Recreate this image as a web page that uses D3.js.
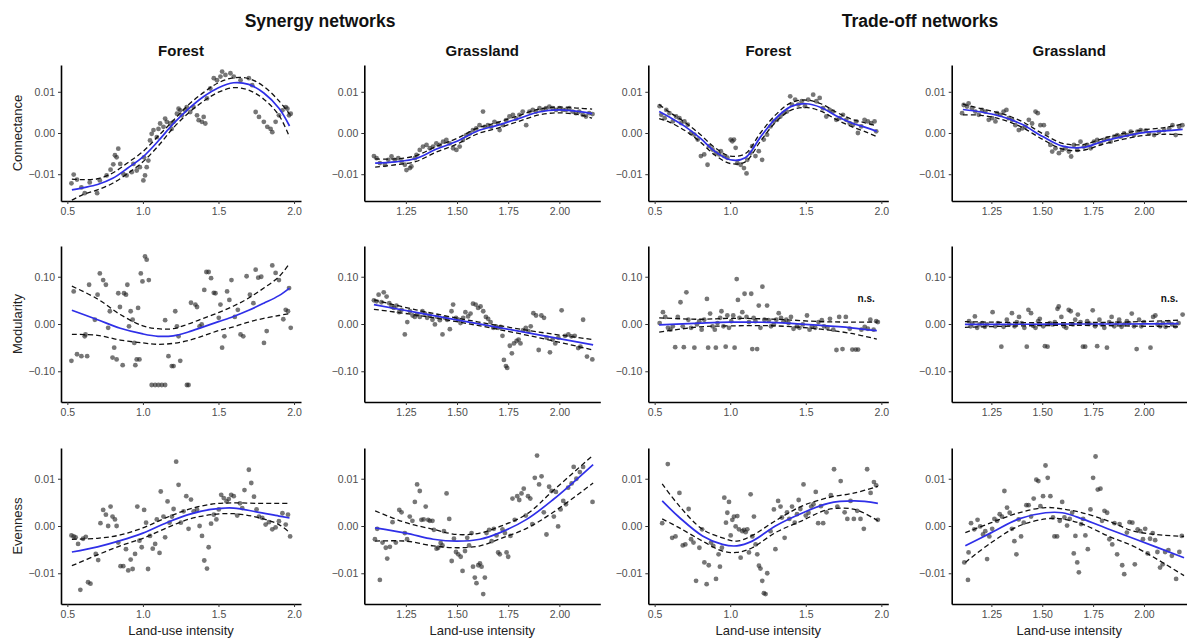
<!DOCTYPE html>
<html><head><meta charset="utf-8">
<script src="https://cdn.jsdelivr.net/npm/d3@7"></script>
<style>body{margin:0;background:#fff;} svg{display:block;font-family:"Liberation Sans",Arial,sans-serif;}</style>
</head><body><svg id="c" width="1187" height="640"></svg>
<script>
// ---------- labels ----------
const groupTitles = ["Synergy networks", "Trade-off networks"];
const habitatTitles = ["Forest", "Grassland", "Forest", "Grassland"];
const metricTitles = ["Connectance", "Modularity", "Evenness"];
const xAxisTitle = "Land-use intensity";
const xTicksForest = [0.5, 1.0, 1.5, 2.0];
const xTicksGrass = [1.25, 1.50, 1.75, 2.00];
const yTicksSmall = [-0.01, 0.00, 0.01];
const yTicksMod = [-0.10, 0.00, 0.10];
const nsText = "n.s.";
const nsLabels = [[1, 2, 1.90, 0.053], [1, 3, 2.125, 0.053]]; // row, col, x, y

// ---------- points [x, y] ----------
const ptsSynForestConn = [[0.527,-0.0122],[0.542,-0.0101],[0.564,-0.0113],[0.593,-0.0132],[0.615,-0.0146],[0.648,-0.012],[0.697,-0.0146],[0.715,-0.0115],[0.76,-0.0103],[0.786,-0.0089],[0.804,-0.0076],[0.815,-0.0054],[0.826,-0.0059],[0.837,-0.0038],[0.85,-0.0075],[0.87,-0.0099],[0.892,-0.0103],[0.926,-0.0095],[0.937,-0.0075],[0.959,-0.0091],[0.98,-0.0083],[1.003,-0.0115],[1.007,-0.0059],[1.014,-0.0103],[1.025,-0.0083],[1.036,-0.0067],[1.047,-0.0018],[1.058,-0.0002],[1.07,0.0007],[1.092,-0.001],[1.103,0.001],[1.114,0.0023],[1.136,0.0015],[1.147,0.0035],[1.158,0.0027],[1.18,0.0023],[1.19,0.001],[1.203,0.0027],[1.225,0.0047],[1.236,0.0059],[1.247,0.0055],[1.258,0.0043],[1.28,0.0055],[1.29,0.0063],[1.313,0.0051],[1.335,0.0063],[1.358,0.0043],[1.369,0.0031],[1.39,0.0027],[1.402,0.0039],[1.413,0.0023],[1.424,0.0084],[1.446,0.0108],[1.469,0.0133],[1.49,0.0128],[1.513,0.0137],[1.524,0.0149],[1.546,0.0141],[1.579,0.0145],[1.601,0.0137],[1.646,0.0128],[1.701,0.0133],[1.723,0.0116],[1.746,0.0051],[1.768,0.0039],[1.8,0.0027],[1.823,0.0015],[1.845,0.001],[1.856,0.0002],[1.878,0.0027],[1.9,0.0043],[1.923,0.0055],[1.945,0.0063],[1.956,0.0059],[1.967,0.0043],[1.978,0.0047]];
const ptsSynGrassConn = [[1.094,-0.0056],[1.107,-0.0061],[1.123,-0.0073],[1.148,-0.0077],[1.164,-0.0065],[1.18,-0.0057],[1.196,-0.0065],[1.213,-0.0061],[1.229,-0.0069],[1.245,-0.0077],[1.253,-0.009],[1.27,-0.0085],[1.277,-0.0081],[1.294,-0.0061],[1.302,-0.0053],[1.318,-0.0041],[1.334,-0.0033],[1.351,-0.0029],[1.367,-0.0037],[1.383,-0.0033],[1.399,-0.0025],[1.416,-0.0029],[1.432,-0.0021],[1.448,-0.0017],[1.464,-0.0025],[1.481,-0.0037],[1.497,-0.0041],[1.513,-0.0033],[1.529,-0.0017],[1.545,-0.0005],[1.562,-0.0001],[1.578,0.0007],[1.594,0.0011],[1.61,0.0019],[1.627,0.0052],[1.635,0.0015],[1.651,0.0019],[1.667,0.0015],[1.683,0.0027],[1.7,0.0023],[1.708,0.0007],[1.724,0.0019],[1.74,0.0031],[1.756,0.004],[1.773,0.0044],[1.789,0.0035],[1.805,0.0044],[1.821,0.0052],[1.838,0.0019],[1.854,0.0052],[1.87,0.0056],[1.886,0.0052],[1.903,0.006],[1.919,0.0056],[1.935,0.006],[1.951,0.0064],[1.968,0.006],[1.984,0.0056],[2.0,0.006],[2.016,0.0056],[2.032,0.0056],[2.049,0.006],[2.065,0.0052],[2.081,0.0048],[2.097,0.0052],[2.114,0.0044],[2.13,0.004],[2.146,0.0048],[2.162,0.0046]];
const ptsTradeForestConn = [[0.533,0.0065],[0.544,0.0044],[0.566,0.0036],[0.577,0.0056],[0.598,0.0048],[0.62,0.0028],[0.642,0.004],[0.664,0.0036],[0.675,0.0024],[0.697,0.0028],[0.719,0.002],[0.741,0],[0.763,-0.0004],[0.785,-0.0016],[0.806,-0.0056],[0.828,-0.0052],[0.85,-0.0077],[0.861,-0.0032],[0.883,-0.004],[0.905,-0.0048],[0.927,-0.0052],[0.938,-0.0044],[0.96,-0.0056],[0.981,-0.006],[1.003,-0.0016],[1.014,-0.002],[1.025,-0.0016],[1.036,-0.0036],[1.047,-0.0073],[1.069,-0.0077],[1.091,-0.0085],[1.108,-0.0098],[1.113,-0.0065],[1.135,-0.0048],[1.146,-0.0032],[1.167,-0.0056],[1.189,-0.0044],[1.211,-0.0065],[1.222,-0.0016],[1.244,-0.0004],[1.266,0.0016],[1.288,0.0028],[1.31,0.0032],[1.332,0.004],[1.353,0.0048],[1.375,0.0052],[1.397,0.0089],[1.408,0.0069],[1.43,0.0081],[1.451,0.0069],[1.473,0.0077],[1.495,0.0065],[1.516,0.0081],[1.549,0.0093],[1.57,0.0077],[1.592,0.0085],[1.614,0.006],[1.636,0.004],[1.658,0.0056],[1.68,0.0052],[1.702,0.0032],[1.724,0.0036],[1.746,0.0044],[1.768,0.0032],[1.79,0.0024],[1.812,0.002],[1.834,0.0028],[1.845,0],[1.867,0.0016],[1.889,0.0032],[1.911,0.0028],[1.933,0.0024],[1.955,0.0028],[1.966,0.0004]];
const ptsTradeGrassConn = [[1.106,0.0048],[1.114,0.0068],[1.13,0.0064],[1.138,0.0072],[1.155,0.006],[1.171,0.0052],[1.188,0.0044],[1.204,0.0056],[1.22,0.0052],[1.237,0.0032],[1.253,0.0036],[1.27,0.0028],[1.278,0.0048],[1.294,0.0044],[1.31,0.0052],[1.324,0.0056],[1.335,0.0036],[1.352,0.0032],[1.368,0.0019],[1.385,0.0007],[1.401,0.0011],[1.417,0.0015],[1.434,0.0032],[1.45,0.0023],[1.467,0.0052],[1.478,0.0048],[1.491,0.0019],[1.508,0.0019],[1.524,-0.0001],[1.54,-0.0029],[1.549,-0.0045],[1.565,-0.0037],[1.582,-0.0049],[1.598,-0.0041],[1.614,-0.0037],[1.631,-0.0045],[1.642,-0.0057],[1.656,-0.0029],[1.672,-0.0041],[1.688,-0.0021],[1.705,-0.0033],[1.721,-0.0029],[1.738,-0.0037],[1.754,-0.0021],[1.77,-0.0017],[1.787,-0.0025],[1.803,-0.0017],[1.82,-0.0013],[1.836,-0.0021],[1.853,-0.0009],[1.869,-0.0005],[1.885,-0.0009],[1.902,-0.0001],[1.918,-0.0005],[1.935,0.0003],[1.951,-0.0005],[1.968,0.0003],[1.984,0.0007],[2.008,0.0006],[2.025,-0.0001],[2.05,-0.0005],[2.074,0.0003],[2.099,0.0007],[2.124,0.0011],[2.14,0.0019],[2.156,-0.0005],[2.173,0.0015],[2.189,0.0019]];
const ptsSynForestMod = [[0.527,-0.078],[0.542,0.069],[0.564,-0.064],[0.593,-0.068],[0.615,-0.026],[0.62,-0.022],[0.631,-0.068],[0.644,0.083],[0.682,0.009],[0.7,0.062],[0.715,0.107],[0.737,0.093],[0.755,0.083],[0.77,-0.008],[0.781,0.027],[0.799,-0.071],[0.81,-0.05],[0.826,-0.075],[0.837,0.065],[0.848,0.036],[0.866,-0.087],[0.875,0.065],[0.888,0.062],[0.897,0.083],[0.908,-0.005],[0.919,0.027],[0.932,0.009],[0.943,-0.04],[0.95,-0.087],[0.959,-0.075],[0.968,0.034],[0.977,-0.075],[0.986,0.107],[0.997,0.09],[1.014,0.143],[1.025,0.136],[1.039,0.093],[1.058,-0.129],[1.081,-0.129],[1.103,-0.129],[1.125,-0.129],[1.147,-0.129],[1.147,0.008],[1.169,-0.068],[1.191,-0.089],[1.203,-0.089],[1.214,0.027],[1.225,-0.005],[1.236,-0.026],[1.247,-0.078],[1.291,-0.129],[1.302,-0.129],[1.318,0.045],[1.347,0.041],[1.358,0.036],[1.375,-0.005],[1.389,-0.001],[1.406,0.072],[1.42,0.11],[1.435,0.11],[1.451,0.097],[1.469,0.066],[1.48,0.065],[1.502,0.013],[1.513,0.041],[1.524,-0.05],[1.539,-0.026],[1.557,0.069],[1.572,0.051],[1.586,0.093],[1.608,0.015],[1.628,0.03],[1.646,-0.022],[1.664,-0.026],[1.686,0.101],[1.708,0.062],[1.731,0.044],[1.746,0.115],[1.763,0.098],[1.783,0.1],[1.801,-0.04],[1.819,-0.015],[1.856,0.124],[1.878,0.108],[1.9,0.093],[1.929,0.01],[1.945,0.03],[1.96,0.027],[1.967,0.076],[1.978,-0.008]];
const ptsSynGrassMod = [[1.094,0.05],[1.107,0.048],[1.117,0.062],[1.131,0.046],[1.142,0.067],[1.156,0.058],[1.169,0.044],[1.18,0.037],[1.191,0.034],[1.204,0.039],[1.217,0.025],[1.229,0.03],[1.245,-0.022],[1.257,0.004],[1.27,0.027],[1.283,0.018],[1.294,0.015],[1.305,0.02],[1.318,0.015],[1.331,0.027],[1.343,0.022],[1.354,0.013],[1.367,0.018],[1.38,0.009],[1.392,-0.001],[1.403,0.015],[1.416,0.008],[1.429,-0.022],[1.441,0.013],[1.452,0.009],[1.465,-0.011],[1.473,0.027],[1.481,0.041],[1.495,0.013],[1.506,0.009],[1.517,0.002],[1.53,0.013],[1.541,0.025],[1.554,0.016],[1.566,0.022],[1.578,0.043],[1.591,0.041],[1.603,0.034],[1.615,0.037],[1.628,0.027],[1.641,0.015],[1.652,0.011],[1.664,0.004],[1.677,-0.008],[1.69,-0.005],[1.701,-0.008],[1.713,-0.006],[1.722,-0.025],[1.729,-0.076],[1.739,-0.089],[1.745,-0.093],[1.758,-0.046],[1.768,-0.062],[1.778,-0.041],[1.791,-0.036],[1.801,-0.033],[1.81,-0.041],[1.823,-0.013],[1.836,-0.008],[1.849,-0.015],[1.86,-0.005],[1.873,0.023],[1.886,0.018],[1.899,-0.055],[1.912,0.018],[1.925,0.013],[1.938,-0.029],[1.954,-0.06],[1.967,-0.033],[1.98,-0.041],[1.995,-0.029],[2.011,0.029],[2.028,-0.025],[2.044,-0.022],[2.059,-0.026],[2.075,-0.025],[2.092,-0.051],[2.103,-0.048],[2.116,0.009],[2.135,-0.069],[2.161,-0.075]];
const ptsTradeForestMod = [[0.533,0.002],[0.555,0.025],[0.57,0.015],[0.588,-0.008],[0.605,-0.012],[0.62,-0.005],[0.636,-0.049],[0.653,0.015],[0.671,0.046],[0.686,-0.005],[0.693,-0.049],[0.71,0.067],[0.723,0.009],[0.741,-0.008],[0.763,-0.05],[0.78,-0.001],[0.795,0.006],[0.811,-0.012],[0.828,0.009],[0.846,0.053],[0.854,-0.05],[0.867,0.022],[0.883,-0.005],[0.898,-0.012],[0.905,-0.05],[0.916,0.002],[0.933,0.013],[0.942,0.027],[0.955,-0.005],[0.97,-0.048],[0.981,0.018],[0.992,-0.008],[1.007,0.006],[1.02,0.018],[1.029,-0.05],[1.043,0.095],[1.051,0.051],[1.061,0.013],[1.08,0.025],[1.095,0.064],[1.108,0.015],[1.124,0.004],[1.139,0.064],[1.146,-0.053],[1.155,0.013],[1.167,0.006],[1.178,-0.053],[1.189,0.039],[1.2,-0.008],[1.213,0.079],[1.226,0.009],[1.244,0.039],[1.255,0.008],[1.27,-0.005],[1.288,-0.001],[1.305,0.009],[1.321,0.023],[1.336,0.013],[1.353,0.006],[1.371,0.009],[1.386,0.002],[1.402,0.015],[1.419,-0.01],[1.441,-0.005],[1.458,-0.008],[1.48,-0.001],[1.508,0.018],[1.525,-0.012],[1.541,-0.005],[1.563,-0.008],[1.584,0.004],[1.606,0.008],[1.621,-0.005],[1.643,-0.008],[1.66,0.011],[1.682,-0.012],[1.703,-0.055],[1.721,0.015],[1.743,-0.053],[1.765,0.015],[1.791,-0.01],[1.808,-0.054],[1.83,-0.054],[1.846,-0.054],[1.868,-0.012],[1.89,-0.006],[1.911,-0.01],[1.927,0.009],[1.949,-0.012],[1.966,0.006],[1.977,0.004]];
const ptsTradeGrassMod = [[1.14,0.006],[1.148,-0.005],[1.156,0.001],[1.169,0.016],[1.18,-0.008],[1.192,-0.001],[1.205,0.002],[1.218,-0.006],[1.229,-0.001],[1.256,0.025],[1.269,-0.005],[1.282,0.002],[1.299,-0.048],[1.31,-0.006],[1.326,0.009],[1.338,-0.001],[1.351,0.023],[1.364,-0.005],[1.375,0.004],[1.386,0.015],[1.399,0.002],[1.412,-0.008],[1.424,-0.048],[1.432,0.03],[1.445,0.023],[1.456,-0.004],[1.467,-0.008],[1.48,0.006],[1.488,0.011],[1.505,-0.005],[1.513,-0.047],[1.526,-0.048],[1.537,0.002],[1.549,-0.001],[1.562,0.004],[1.575,0.032],[1.581,0.037],[1.594,0.015],[1.607,-0.005],[1.618,-0.008],[1.63,0.03],[1.64,0.027],[1.651,-0.001],[1.662,0.009],[1.675,0.02],[1.688,0.004],[1.7,-0.048],[1.711,-0.048],[1.721,0.006],[1.732,0.001],[1.748,0.029],[1.76,-0.005],[1.77,-0.047],[1.781,0.009],[1.792,-0.001],[1.805,-0.008],[1.818,-0.05],[1.829,0.004],[1.841,0.015],[1.854,-0.005],[1.867,0.002],[1.878,0.009],[1.89,-0.006],[1.903,-0.001],[1.916,0.006],[1.927,0.002],[1.94,0.022],[1.951,-0.005],[1.964,-0.053],[1.976,0.009],[1.987,-0.005],[2.0,0.004],[2.032,-0.05],[2.045,0.015],[2.056,0.018],[2.067,-0.001],[2.08,-0.005],[2.093,0.002],[2.106,-0.006],[2.122,0.004],[2.138,-0.001],[2.154,-0.005],[2.17,0.002],[2.19,0.02]];
const ptsSynForestEven = [[0.527,-0.002],[0.542,-0.0022],[0.555,-0.0024],[0.571,-0.0038],[0.586,-0.0135],[0.604,-0.0027],[0.622,-0.0023],[0.637,-0.0119],[0.653,-0.0122],[0.688,-0.0059],[0.704,-0.0072],[0.719,0.0006],[0.737,0.0034],[0.755,0.0024],[0.77,0],[0.786,0.0041],[0.799,0.002],[0.815,0.0014],[0.826,0],[0.837,-0.0035],[0.852,-0.0085],[0.87,-0.0085],[0.888,-0.0049],[0.903,-0.0094],[0.919,-0.0071],[0.932,-0.0091],[0.948,-0.0059],[0.963,0.0041],[0.977,-0.0031],[0.992,-0.0045],[1.008,0.0034],[1.021,0.0007],[1.034,-0.0091],[1.047,-0.0021],[1.065,-0.0048],[1.081,-0.0038],[1.092,0.0014],[1.11,-0.0057],[1.118,0.0073],[1.136,0.002],[1.147,-0.0024],[1.163,0.0052],[1.176,0.0007],[1.192,0.002],[1.203,0.0036],[1.22,0.0136],[1.236,0.0087],[1.251,0.0007],[1.269,0.0031],[1.287,0.0063],[1.302,-0.0006],[1.318,0.0056],[1.336,0.0031],[1.358,0.0035],[1.375,0],[1.391,-0.0021],[1.406,-0.0073],[1.424,-0.009],[1.435,-0.0045],[1.451,0.0005],[1.469,0.0024],[1.486,0.0014],[1.502,0.0035],[1.518,0.0066],[1.535,0.0059],[1.553,0.0052],[1.568,0.0057],[1.584,0.0066],[1.601,0.0063],[1.624,0.0022],[1.642,0.0048],[1.657,0.0038],[1.672,0.0076],[1.701,0.0119],[1.717,0.0091],[1.735,0.0062],[1.752,0.0035],[1.768,0.002],[1.79,0.0017],[1.812,0.0003],[1.834,0.0008],[1.856,-0.0007],[1.878,-0.0003],[1.9,0.001],[1.923,0.0027],[1.945,0.0003],[1.96,0.0024],[1.974,-0.0022]];
const ptsSynGrassEven = [[1.099,-0.0028],[1.11,-0.0006],[1.123,-0.0114],[1.136,-0.0035],[1.152,-0.0046],[1.159,-0.0069],[1.172,-0.0044],[1.185,0.0008],[1.201,-0.0035],[1.218,0.0034],[1.229,0.0029],[1.245,-0.0015],[1.256,-0.0028],[1.269,0.002],[1.282,0.0011],[1.294,0.0051],[1.305,0.0088],[1.318,0.0074],[1.326,0.0013],[1.337,0.0014],[1.347,0.0041],[1.359,0.0013],[1.367,0.0011],[1.38,0.0011],[1.387,-0.0008],[1.4,-0.0048],[1.408,-0.0046],[1.42,-0.0036],[1.429,-0.0041],[1.436,-0.0011],[1.449,0.0069],[1.462,0.0015],[1.474,-0.0074],[1.485,-0.0027],[1.495,-0.0055],[1.506,-0.006],[1.518,-0.0065],[1.527,-0.0095],[1.539,-0.0053],[1.55,-0.0025],[1.559,-0.0041],[1.571,-0.0015],[1.578,-0.0086],[1.587,-0.0109],[1.595,-0.0121],[1.604,-0.0083],[1.612,-0.0079],[1.62,-0.0086],[1.628,-0.0144],[1.636,-0.0109],[1.644,-0.0015],[1.657,-0.0008],[1.669,-0.0032],[1.68,-0.0006],[1.693,-0.002],[1.701,-0.0056],[1.709,-0.006],[1.722,-0.0007],[1.734,-0.0015],[1.742,-0.0056],[1.75,-0.0065],[1.761,-0.0021],[1.771,0.0058],[1.782,0.0013],[1.794,0.0063],[1.804,0.0055],[1.815,0.0069],[1.826,0.0079],[1.836,0.0022],[1.847,0.0063],[1.858,0.0058],[1.868,0.0004],[1.88,0.0102],[1.891,0.0149],[1.901,0.0088],[1.913,0.0105],[1.924,0.0029],[1.937,-0.0018],[1.95,0.0083],[1.962,0.0074],[1.973,0.002],[1.983,0.0072],[1.994,-0.0001],[2.006,0.0035],[2.019,0.0053],[2.032,0.0046],[2.043,0.0081],[2.06,0.009],[2.07,0.0125],[2.083,0.01],[2.1,0.0114],[2.116,0.0125],[2.162,0.0051]];
const ptsTradeForestEven = [[0.55,0.0006],[0.587,0.0131],[0.616,-0.0025],[0.638,-0.0022],[0.664,0.007],[0.686,-0.0041],[0.703,-0.0039],[0.725,0.0036],[0.741,-0.0028],[0.757,-0.0035],[0.774,-0.0116],[0.796,-0.0046],[0.814,-0.0007],[0.829,-0.0077],[0.844,-0.0123],[0.858,-0.0083],[0.873,-0.0035],[0.888,-0.0042],[0.906,-0.0112],[0.923,-0.006],[0.932,-0.0086],[0.945,-0.0046],[0.961,0.006],[0.972,0.0007],[0.981,0.0028],[0.992,0.0051],[1.003,-0.002],[1.014,0.0013],[1.025,0.002],[1.036,-0.0001],[1.047,0.0021],[1.058,-0.0007],[1.069,-0.0067],[1.08,-0.0011],[1.091,-0.0008],[1.102,-0.0013],[1.113,-0.0007],[1.124,-0.0056],[1.135,0.0067],[1.146,-0.0022],[1.157,0.002],[1.168,-0.0039],[1.179,-0.006],[1.19,-0.0084],[1.2,-0.009],[1.212,-0.0116],[1.223,-0.0142],[1.234,-0.0144],[1.245,-0.01],[1.267,-0.0011],[1.289,0.0035],[1.299,-0.0049],[1.317,0.0053],[1.333,0.0041],[1.342,0.0018],[1.36,-0.0025],[1.376,0.0029],[1.391,0.0015],[1.409,0.0041],[1.427,0.0007],[1.442,0.0025],[1.453,0.0055],[1.464,0.0036],[1.485,0.0088],[1.5,0.0022],[1.518,0.0028],[1.536,0.0041],[1.551,0.0046],[1.566,0.0072],[1.582,0.0006],[1.6,0.0042],[1.615,0.0006],[1.637,0.0029],[1.666,0.0065],[1.687,0.012],[1.709,0.0041],[1.731,0.0095],[1.757,0.0029],[1.775,0.0015],[1.796,0.0053],[1.818,0.0015],[1.84,0.0032],[1.862,0.0015],[1.884,-0.0006],[1.906,0.012],[1.929,0.007],[1.951,0.0093],[1.966,0.0086],[1.977,0.0013]];
const ptsTradeGrassEven = [[1.117,-0.0077],[1.135,-0.0114],[1.138,-0.0056],[1.15,0.0006],[1.166,-0.0007],[1.182,0.0013],[1.195,-0.0001],[1.209,-0.0018],[1.22,-0.0011],[1.229,-0.007],[1.24,-0.0022],[1.254,-0.0006],[1.265,0.0015],[1.278,0.0011],[1.291,0.0025],[1.302,0.002],[1.314,0.0074],[1.327,0.0039],[1.34,0.0028],[1.351,-0.0006],[1.363,-0.0032],[1.373,-0.006],[1.384,0.0014],[1.396,-0.0022],[1.409,0.0007],[1.422,0.0044],[1.433,0.0044],[1.445,0.002],[1.458,0.0058],[1.471,0.0098],[1.481,0.0095],[1.491,0.0042],[1.504,0.0063],[1.516,0.0128],[1.527,0.0102],[1.54,0.0063],[1.553,0.0018],[1.56,-0.0022],[1.573,-0.0022],[1.586,0.0011],[1.598,0.0051],[1.609,0.0018],[1.622,0.0001],[1.635,0.0015],[1.647,0.0028],[1.655,-0.0058],[1.663,-0.0021],[1.672,-0.0077],[1.68,-0.0098],[1.691,0.0004],[1.701,0.0015],[1.712,-0.002],[1.724,-0.0049],[1.737,0.0035],[1.75,0.0102],[1.762,0.0147],[1.773,0.0077],[1.786,0.0079],[1.794,0.0011],[1.806,0.0032],[1.819,0.0028],[1.83,-0.0028],[1.844,-0.0039],[1.855,0.0006],[1.868,-0.006],[1.88,0.0004],[1.893,-0.0083],[1.903,-0.0102],[1.916,-0.0014],[1.929,0.0008],[1.943,0.0007],[1.955,-0.0081],[1.969,-0.0007],[1.982,-0.0011],[1.995,-0.0028],[2.006,-0.0006],[2.018,-0.0058],[2.03,-0.0027],[2.043,-0.0015],[2.055,-0.003],[2.066,-0.0055],[2.079,-0.0088],[2.092,-0.0081],[2.104,-0.0055],[2.12,-0.0051],[2.137,-0.0063],[2.158,-0.0112],[2.174,-0.0055],[2.186,-0.0021]];

// ---------- fitted curves [x, fit, lower, upper] ----------
const fitSynForestConn = [[0.53,-0.0138,-0.0163,-0.0112],[0.6,-0.0133,-0.015,-0.0113],[0.7,-0.0125,-0.0138,-0.0111],[0.8,-0.011,-0.0122,-0.0097],[0.9,-0.0085,-0.0098,-0.0072],[1.0,-0.0058,-0.007,-0.0045],[1.1,-0.002,-0.0032,-0.0008],[1.2,0.0022,0.0012,0.003],[1.3,0.0058,0.0048,0.0068],[1.4,0.0088,0.0077,0.0098],[1.5,0.011,0.0099,0.0122],[1.6,0.0122,0.011,0.0134],[1.7,0.0118,0.0104,0.0132],[1.8,0.0097,0.0082,0.0113],[1.9,0.006,0.0043,0.0078],[1.97,0.0017,-0.001,0.0046]];
const fitSynGrassConn = [[1.1,-0.0073,-0.0083,-0.0063],[1.2,-0.007,-0.0077,-0.0063],[1.3,-0.0062,-0.0069,-0.0055],[1.4,-0.0039,-0.0046,-0.0032],[1.5,-0.002,-0.0027,-0.0013],[1.6,0.0005,-0.0002,0.0012],[1.7,0.0019,0.0012,0.0026],[1.8,0.0035,0.0028,0.0042],[1.9,0.0051,0.0044,0.0058],[2.0,0.0056,0.0049,0.0063],[2.1,0.0052,0.0044,0.006],[2.16,0.0047,0.0036,0.0058]];
const fitTradeForestConn = [[0.53,0.0052,0.0035,0.0069],[0.6,0.0038,0.0026,0.005],[0.7,0.0016,0.0006,0.0026],[0.8,-0.0012,-0.0021,-0.0003],[0.9,-0.0045,-0.0054,-0.0036],[1.0,-0.0065,-0.0074,-0.0056],[1.1,-0.006,-0.007,-0.005],[1.2,-0.001,-0.002,0.0],[1.3,0.0035,0.0026,0.0044],[1.4,0.0064,0.0055,0.0073],[1.5,0.0071,0.0062,0.008],[1.6,0.0062,0.0053,0.0071],[1.7,0.0042,0.0033,0.0051],[1.8,0.0025,0.0016,0.0034],[1.9,0.0013,0.0002,0.0024],[1.97,0.0004,-0.0009,0.0017]];
const fitTradeGrassConn = [[1.11,0.0057,0.0044,0.007],[1.2,0.0051,0.0043,0.0059],[1.3,0.004,0.0033,0.0047],[1.4,0.0021,0.0014,0.0028],[1.5,-0.0008,-0.0015,-0.0001],[1.6,-0.0032,-0.0039,-0.0025],[1.7,-0.0035,-0.0042,-0.0028],[1.8,-0.002,-0.0027,-0.0013],[1.9,-0.0008,-0.0015,-0.0001],[2.0,0.0001,-0.0006,0.0008],[2.1,0.0005,-0.0003,0.0013],[2.19,0.0009,-0.0004,0.0022]];
const fitSynForestMod = [[0.53,0.029,-0.022,0.08],[0.7,0.009,-0.024,0.053],[0.85,-0.009,-0.034,0.02],[1.0,-0.021,-0.04,-0.004],[1.1,-0.026,-0.043,-0.01],[1.2,-0.025,-0.041,-0.01],[1.3,-0.017,-0.035,0.0],[1.4,-0.006,-0.025,0.012],[1.5,0.005,-0.014,0.024],[1.6,0.016,-0.006,0.038],[1.7,0.029,0.004,0.055],[1.8,0.044,0.012,0.076],[1.9,0.06,0.018,0.1],[1.97,0.076,0.022,0.128]];
const fitSynGrassMod = [[1.094,0.041,0.031,0.051],[1.3,0.0246,0.019,0.03],[1.6,0.0008,-0.003,0.0046],[1.9,-0.023,-0.029,-0.017],[2.165,-0.044,-0.055,-0.033]];
const fitTradeForestMod = [[0.53,-0.002,-0.017,0.013],[0.8,0.002,-0.006,0.01],[1.0,0.004,-0.004,0.012],[1.3,0.003,-0.004,0.01],[1.6,-0.003,-0.011,0.005],[1.8,-0.008,-0.02,0.004],[1.97,-0.014,-0.032,0.004]];
const fitTradeGrassMod = [[1.12,-0.001,-0.007,0.005],[1.4,-0.0005,-0.004,0.003],[1.65,0.0,-0.003,0.003],[1.9,0.0,-0.004,0.004],[2.17,0.001,-0.006,0.008]];
const fitSynForestEven = [[0.53,-0.0055,-0.0084,-0.0028],[0.7,-0.0044,-0.0061,-0.0026],[0.85,-0.0031,-0.0042,-0.0019],[1.0,-0.0015,-0.0026,-0.0004],[1.15,0.0006,-0.0005,0.0017],[1.3,0.0024,0.0014,0.0035],[1.45,0.0035,0.0024,0.0046],[1.6,0.0038,0.0026,0.0049],[1.75,0.003,0.0019,0.0048],[1.9,0.0021,0.0003,0.0048],[1.97,0.0017,-0.0014,0.0048]];
const fitSynGrassEven = [[1.1,-0.0004,-0.0032,0.0032],[1.25,-0.0015,-0.0032,0.0007],[1.384,-0.0028,-0.0042,-0.0007],[1.5,-0.0032,-0.0046,-0.0018],[1.612,-0.0028,-0.0042,-0.0015],[1.71,-0.0014,-0.0027,-0.0001],[1.84,0.0014,-0.0005,0.0025],[1.97,0.0056,0.0029,0.0075],[2.165,0.013,0.0091,0.015]];
const fitTradeForestEven = [[0.55,0.0053,0.0015,0.0089],[0.664,0.0018,-0.0004,0.0042],[0.817,-0.0021,-0.0032,-0.0007],[0.949,-0.0039,-0.0053,-0.0025],[1.044,-0.0042,-0.0056,-0.0032],[1.146,-0.0032,-0.0046,-0.002],[1.299,0.0,-0.0014,0.0011],[1.474,0.0027,0.0011,0.0042],[1.649,0.0048,0.0035,0.006],[1.824,0.0053,0.0035,0.007],[1.977,0.0048,0.0011,0.0084]];
const fitTradeGrassEven = [[1.122,-0.0042,-0.0077,-0.0014],[1.25,-0.0014,-0.0035,0.0007],[1.385,0.0015,0.0,0.0028],[1.516,0.0028,0.0015,0.0039],[1.598,0.0028,0.0015,0.0036],[1.697,0.0015,0.0004,0.0028],[1.828,-0.0007,-0.0022,0.001],[1.959,-0.0028,-0.0045,-0.0012],[2.197,-0.0067,-0.0105,-0.0022]];

// ---------- panel table ----------
const panelPts = [
  [ptsSynForestConn, ptsSynGrassConn, ptsTradeForestConn, ptsTradeGrassConn],
  [ptsSynForestMod, ptsSynGrassMod, ptsTradeForestMod, ptsTradeGrassMod],
  [ptsSynForestEven, ptsSynGrassEven, ptsTradeForestEven, ptsTradeGrassEven]];
const panelFits = [
  [fitSynForestConn, fitSynGrassConn, fitTradeForestConn, fitTradeGrassConn],
  [fitSynForestMod, fitSynGrassMod, fitTradeForestMod, fitTradeGrassMod],
  [fitSynForestEven, fitSynGrassEven, fitTradeForestEven, fitTradeGrassEven]];

// ---------- layout ----------
const svg = d3.select("#c");
const colX = [61, 364.3, 648.3, 951.7], colW = [240, 236, 240, 235];
const rowY = [65, 246, 448], rowH = [136, 156, 156];
const xDom = [[0.458, 2.046], [1.047, 2.2], [0.458, 2.046], [1.055, 2.21]];
const yDom = [[-0.0165, 0.0165], [-0.165, 0.165], [-0.0165, 0.0165]];
const fmtX = [d3.format(".1f"), d3.format(".2f"), d3.format(".1f"), d3.format(".2f")];
const fmtY = [d3.format(".2f"), d3.format(".2f"), d3.format(".2f")];

svg.append("rect").attr("width", 1187).attr("height", 640).attr("fill", "#fff");

// group titles
[[320, groupTitles[0]], [920, groupTitles[1]]].forEach(([cx, t]) => {
  svg.append("text").attr("x", cx).attr("y", 27).attr("text-anchor", "middle")
    .attr("font-size", 17.5).attr("font-weight", "bold").attr("fill", "#111").text(t);
});

for (let r = 0; r < 3; r++) {
  for (let c = 0; c < 4; c++) {
    const x = d3.scaleLinear().domain(xDom[c]).range([colX[c], colX[c] + colW[c]]);
    const y = d3.scaleLinear().domain(yDom[r]).range([rowY[r] + rowH[r], rowY[r]]);
    const g = svg.append("g");

    // points
    g.selectAll("circle").data(panelPts[r][c]).join("circle")
      .attr("cx", d => x(d[0])).attr("cy", d => y(d[1])).attr("r", 2.4)
      .attr("fill", "#222").attr("fill-opacity", 0.62);

    const fit = panelFits[r][c];
    const mk = i => d3.line().x(d => x(d[0])).y(d => y(d[i])).curve(d3.curveCatmullRom.alpha(0.5));
    g.append("path").datum(fit).attr("d", mk(1)).attr("fill", "none")
      .attr("stroke", "#2f2fe8").attr("stroke-width", 1.7);
    [2, 3].forEach(i => {
      g.append("path").datum(fit).attr("d", mk(i)).attr("fill", "none")
        .attr("stroke", "#111").attr("stroke-width", 1.3).attr("stroke-dasharray", "5,3");
    });

    // axes
    const xt = (c % 2 === 0) ? xTicksForest : xTicksGrass;
    const yt = (r === 1) ? yTicksMod : yTicksSmall;
    const ax = g.append("g").attr("transform", `translate(0,${rowY[r] + rowH[r]})`)
      .call(d3.axisBottom(x).tickValues(xt).tickFormat(fmtX[c]).tickSize(3).tickSizeOuter(0).tickPadding(4));
    const ay = g.append("g").attr("transform", `translate(${colX[c]},0)`)
      .call(d3.axisLeft(y).tickValues(yt).tickFormat(fmtY[r]).tickSize(3).tickSizeOuter(0).tickPadding(3));
    [ax, ay].forEach(a => {
      a.select(".domain").attr("stroke", "#000").attr("stroke-width", 1.6);
      a.selectAll(".tick line").attr("stroke", "#333").attr("stroke-width", 1);
      a.selectAll(".tick text").attr("fill", "#4d4d4d").attr("font-size", 10.5)
        .attr("font-family", "Liberation Sans, Arial, sans-serif");
    });

    if (r === 0) {
      svg.append("text").attr("x", colX[c] + colW[c] / 2).attr("y", 56).attr("text-anchor", "middle")
        .attr("font-size", 15).attr("font-weight", "bold").attr("fill", "#111").text(habitatTitles[c]);
    }
    if (r === 2) {
      svg.append("text").attr("x", colX[c] + colW[c] / 2).attr("y", 635).attr("text-anchor", "middle")
        .attr("font-size", 13).attr("fill", "#222").text(xAxisTitle);
    }
    if (c === 0) {
      const cy = rowY[r] + rowH[r] / 2;
      svg.append("text").attr("transform", `translate(22,${cy}) rotate(-90)`).attr("text-anchor", "middle")
        .attr("font-size", 13).attr("fill", "#222").text(metricTitles[r]);
    }
    nsLabels.filter(n => n[0] === r && n[1] === c).forEach(n => {
      g.append("text").attr("x", x(n[2])).attr("y", y(n[3])).attr("dy", "0.35em").attr("text-anchor", "middle")
        .attr("font-size", 10).attr("font-weight", "bold").attr("fill", "#111").text(nsText);
    });
  }
}
</script></body></html>
